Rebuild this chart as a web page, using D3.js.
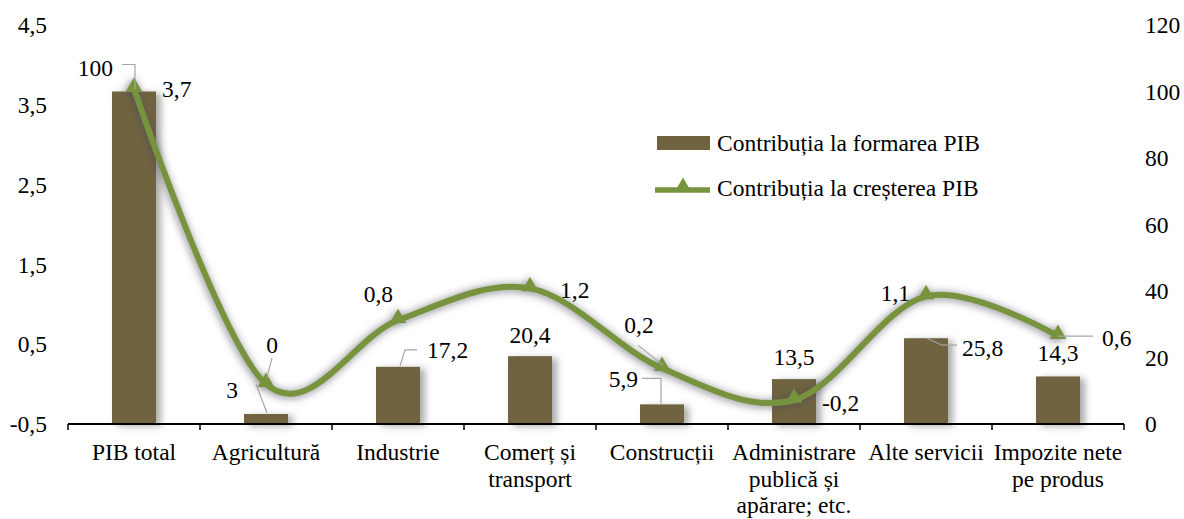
<!DOCTYPE html>
<html>
<head>
<meta charset="utf-8">
<script src="https://cdn.jsdelivr.net/npm/d3@7"></script>
<style>
  body { margin: 0; background: #fff; }
  svg text { font-family: "Liberation Serif", "DejaVu Serif", "Times New Roman", serif; font-size: 23.5px; fill: #000; }
</style>
</head>
<body>
<svg id="chart" width="1184" height="519"></svg>
<script>
// data
var categories = ["PIB total", "Agricultură", "Industrie", "Comerț și\ntransport", "Construcții",
  "Administrare\npublică și\napărare; etc.", "Alte servicii", "Impozite nete\npe produs"];
var formare = [100, 3, 17.2, 20.4, 5.9, 13.5, 25.8, 14.3];   // bars, right axis
var crestere = [3.7, 0, 0.8, 1.2, 0.2, -0.2, 1.1, 0.6];      // line, left axis
var leftTicks = [-0.5, 0.5, 1.5, 2.5, 3.5, 4.5];
var rightTicks = [0, 20, 40, 60, 80, 100, 120];
var seriesNames = ["Contribuția la formarea PIB", "Contribuția la creșterea PIB"];

// label placement (offsets from the mark)
var barLabelPos = [
  { dx: -21, dy: -24, anchor: "end", leader: [[-12, -27], [1, -27], [1, -2]] },
  { dx: -28, dy: -24, anchor: "end", leader: [[-10, -30], [1, -1]] },
  { dx: 29, dy: -17, anchor: "start", leader: [[2, -1], [7, -17], [19, -17]] },
  { dx: 0, dy: -21, anchor: "middle" },
  { dx: -24, dy: -26, anchor: "end", leader: [[-20, -26], [-1, -26], [-1, -1]] },
  { dx: 0, dy: -22, anchor: "middle" },
  { dx: 36, dy: 10, anchor: "start", leader: [[1, 0], [16, 7], [31, 7]] },
  { dx: 0, dy: -24, anchor: "middle" }
];
var lineLabelPos = [
  { dx: 28, dy: 0, anchor: "start" },
  { dx: 6, dy: -39, anchor: "middle", leader: [[6, -26], [1, -7]] },
  { dx: -5, dy: -26, anchor: "end" },
  { dx: 30, dy: 1, anchor: "start" },
  { dx: -23, dy: -43, anchor: "middle", leader: [[-24, -23], [1, -3]] },
  { dx: 28, dy: 3, anchor: "start" },
  { dx: -16, dy: -4, anchor: "end" },
  { dx: 44, dy: 2, anchor: "start", leader: [[0, 0], [35, 0]] }
];

var barColor = "#706440";
var lineColor = "#77933c";
var fmt = function (v) { return String(v).replace(".", ","); };

var svg = d3.select("#chart");

var defs = svg.append("defs");
var shadow = defs.append("filter").attr("id", "shadow")
  .attr("x", "-20%").attr("y", "-20%").attr("width", "140%").attr("height", "140%");
shadow.append("feDropShadow").attr("dx", 5).attr("dy", 2).attr("stdDeviation", 3.5)
  .attr("flood-color", "#555").attr("flood-opacity", 0.5);
// softer grey halo round the line
var glow = defs.append("filter").attr("id", "glow")
  .attr("x", "-10%").attr("y", "-10%").attr("width", "120%").attr("height", "120%");
glow.append("feDropShadow").attr("dx", -1).attr("dy", 1).attr("stdDeviation", 4.5)
  .attr("flood-color", "#4a4a5a").attr("flood-opacity", 0.75);

var x = d3.scaleBand().domain(categories).range([68, 1124]).padding(0);
var yLeft = d3.scaleLinear().domain([-0.5, 4.5]).range([424, 25]);
var yRight = d3.scaleLinear().domain([0, 120]).range([424, 25]);
var cx = function (i) { return x(categories[i]) + x.bandwidth() / 2; };
var barW = x.bandwidth() / 3;

// left axis labels
svg.append("g").selectAll("text").data(leftTicks).join("text")
  .attr("x", 47).attr("y", function (d) { return yLeft(d); }).attr("dy", "0.35em")
  .attr("text-anchor", "end").text(fmt);

// right axis labels
svg.append("g").selectAll("text").data(rightTicks).join("text")
  .attr("x", 1145).attr("y", function (d) { return yRight(d); }).attr("dy", "0.35em")
  .attr("text-anchor", "start").text(fmt);

// bars
svg.append("g").attr("filter", "url(#shadow)").selectAll("rect").data(formare).join("rect")
  .attr("x", function (d, i) { return cx(i) - barW / 2; })
  .attr("y", function (d) { return yRight(d); })
  .attr("width", barW)
  .attr("height", function (d) { return yRight(0) - yRight(d); })
  .attr("fill", barColor);

// x axis
var xAxis = svg.append("g").attr("transform", "translate(0," + yRight(0) + ")");
xAxis.append("line").attr("x1", 68).attr("x2", 1124).attr("stroke", "#000").attr("stroke-width", 2);
xAxis.selectAll("line.tick").data(d3.range(categories.length + 1)).join("line")
  .attr("class", "tick")
  .attr("x1", function (i) { return 68 + i * x.bandwidth(); })
  .attr("x2", function (i) { return 68 + i * x.bandwidth(); })
  .attr("y1", 0).attr("y2", 6).attr("stroke", "#000").attr("stroke-width", 1.5);

var catText = svg.append("g").selectAll("text").data(categories).join("text")
  .attr("text-anchor", "middle");
catText.each(function (d, i) {
  var t = d3.select(this);
  d.split("\n").forEach(function (line, k) {
    t.append("tspan").attr("x", cx(i)).attr("y", 460 + k * 26.5).text(line);
  });
});

// line
var pts = crestere.map(function (v, i) { return [cx(i), yLeft(v)]; });
var lineGen = d3.line().curve(d3.curveCardinal.tension(0));
var tri = d3.symbol().type(d3.symbolTriangle).size(120);

var lineG = svg.append("g").attr("filter", "url(#glow)");
lineG.append("path").attr("d", lineGen(pts))
  .attr("fill", "none").attr("stroke", lineColor).attr("stroke-width", 6)
  .attr("stroke-linejoin", "round");
lineG.selectAll("path.mk").data(pts).join("path").attr("class", "mk")
  .attr("transform", function (d) { return "translate(" + d[0] + "," + (d[1] - 2) + ")"; })
  .attr("d", tri).attr("fill", lineColor);

// data labels + leader lines
function drawLabels(values, anchorPt, pos) {
  var g = svg.append("g");
  values.forEach(function (v, i) {
    var p = anchorPt(i), o = pos[i];
    if (o.leader) {
      g.append("polyline")
        .attr("points", o.leader.map(function (q) { return (p[0] + q[0]) + "," + (p[1] + q[1]); }).join(" "))
        .attr("fill", "none").attr("stroke", "#a6a6a6").attr("stroke-width", 1.2);
    }
    g.append("text").attr("x", p[0] + o.dx).attr("y", p[1] + o.dy).attr("dy", "0.35em")
      .attr("text-anchor", o.anchor).text(fmt(v));
  });
}
drawLabels(formare, function (i) { return [cx(i), yRight(formare[i])]; }, barLabelPos);
drawLabels(crestere, function (i) { return pts[i]; }, lineLabelPos);

// legend
var leg = svg.append("g");
leg.append("rect").attr("x", 657).attr("y", 136).attr("width", 53).attr("height", 14).attr("fill", barColor);
leg.append("text").attr("x", 717).attr("y", 143).attr("dy", "0.35em").text(seriesNames[0]);
leg.append("line").attr("x1", 655).attr("x2", 710).attr("y1", 190).attr("y2", 190)
  .attr("stroke", lineColor).attr("stroke-width", 5.5);
leg.append("path").attr("transform", "translate(683,187)").attr("d", tri).attr("fill", lineColor);
leg.append("text").attr("x", 717).attr("y", 188).attr("dy", "0.35em").text(seriesNames[1]);
</script>
</body>
</html>
